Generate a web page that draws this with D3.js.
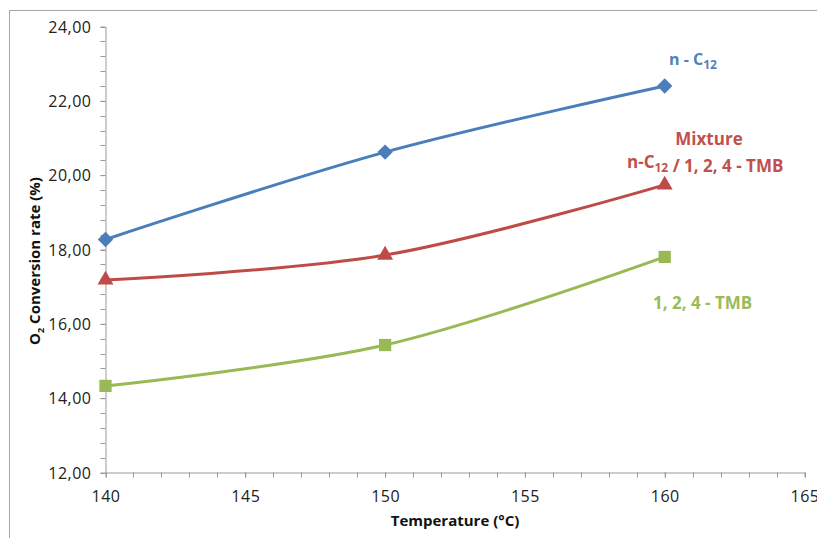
<!DOCTYPE html>
<html><head><meta charset="utf-8">
<script src="https://cdn.jsdelivr.net/npm/d3@7"></script>
<style>
body{margin:0;background:#fff;}
text{font-family:"Open Sans",sans-serif;}
</style></head><body>
<svg id="c" width="817" height="538"></svg>
<script>
const temperatures = [140, 150, 160];
const nC12 = [18.27, 20.62, 22.40];
const mixture = [17.18, 17.85, 19.74];
const tmb = [14.33, 15.43, 17.80];
const xTicks = [140, 145, 150, 155, 160, 165];
const yTicks = [12, 14, 16, 18, 20, 22, 24];

const svg = d3.select("#c");
svg.append("path").attr("d","M9.5,538 V10.5 H817").attr("fill","none").attr("stroke","#a6a6a6").attr("stroke-width",1);

const x = d3.scaleLinear().domain([140,165]).range([105.5,804.5]);
const y = d3.scaleLinear().domain([12,24]).range([472.5,26.5]);

const axisColor = "#999";
const gx = svg.append("g");
d3.range(140,165.001,1).forEach(v=>{
  gx.append("line").attr("x1",Math.round(x(v))+0.5).attr("x2",Math.round(x(v))+0.5).attr("y1",y(12)).attr("y2",y(12)+5).attr("stroke",axisColor);
});
d3.range(12,24.001,0.4).forEach(v=>{
  gx.append("line").attr("x1",x(140)-5).attr("x2",x(140)).attr("y1",Math.round(y(v))+0.5).attr("y2",Math.round(y(v))+0.5).attr("stroke",axisColor);
});
const xAxis = svg.append("g").attr("transform",`translate(0,${y(12)})`)
  .call(d3.axisBottom(x).tickValues(xTicks).tickSize(5).tickSizeOuter(0).tickFormat(d=>d));
const yAxis = svg.append("g").attr("transform",`translate(${x(140)},0)`)
  .call(d3.axisLeft(y).tickValues(yTicks).tickSize(5).tickSizeOuter(0).tickFormat(d=>d3.format(".2f")(d).replace(".",",")));
[xAxis,yAxis].forEach(g=>{
  g.select(".domain").attr("stroke",axisColor);
  g.selectAll(".tick line").attr("stroke",axisColor);
  g.selectAll(".tick text").attr("fill","#222").style("font-size","16px").style("letter-spacing","0.5px").style("font-family","'Open Sans',sans-serif");
});
xAxis.selectAll(".tick text").attr("y",8).attr("dy","21px");
yAxis.selectAll(".tick text").attr("x",-14).attr("dy","0.35em");

svg.append("text").attr("x",455).attr("y",526).attr("text-anchor","middle")
  .style("font-weight","bold").style("font-size","15px").attr("fill","#111").text("Temperature (°C)");
const yl = svg.append("text").attr("transform","translate(40,261) rotate(-90)").attr("text-anchor","middle")
  .style("font-weight","bold").style("font-size","15px").attr("fill","#111");
yl.append("tspan").text("O");
yl.append("tspan").attr("dy",4).style("font-size","9px").text("2");
yl.append("tspan").attr("dy",-4).text(" Conversion rate (%)");

const series = [
  {vals:nC12, color:"#4a7ebb", shape:d3.symbolDiamond2, size:150},
  {vals:mixture, color:"#be4b48", shape:d3.symbolTriangle, size:110},
  {vals:tmb, color:"#98b954", shape:d3.symbolSquare, size:150}
];
const line = d3.line().x(d=>x(d[0])).y(d=>y(d[1])).curve(d3.curveCatmullRom.alpha(0.5));
series.forEach(s=>{
  const pts = temperatures.map((t,i)=>[t,s.vals[i]]);
  svg.append("path").attr("d",line(pts)).attr("fill","none").attr("stroke",s.color).attr("stroke-width",3);
  svg.selectAll(null).data(pts).enter().append("path")
    .attr("d",d3.symbol().type(s.shape).size(s.size))
    .attr("transform",d=>`translate(${x(d[0])},${y(d[1])})`).attr("fill",s.color);
});

function label(xp,yp,parts,color,anchor,fs){
  const t = svg.append("text").attr("x",xp).attr("y",yp).attr("text-anchor",anchor||"start")
    .attr("fill",color).style("font-weight","bold").style("font-size",(fs||17)+"px");
  parts.forEach(p=>{
    if(p.sub){ t.append("tspan").attr("dy",4).style("font-size","12px").text(p.t); t.append("tspan").attr("dy",-4).text(""); }
    else t.append("tspan").text(p.t);
  });
}
label(669,65,[{t:"n - C"},{t:"12",sub:true}],"#4f81bd","start",16);
label(709,145,[{t:"Mixture"}],"#c0504d","middle");
label(627,168,[{t:"n-C"},{t:"12",sub:true},{t:" / 1, 2, 4 - TMB"}],"#c0504d");
label(653,309,[{t:"1, 2, 4 - TMB"}],"#9bbb59");
</script>
</body></html>
